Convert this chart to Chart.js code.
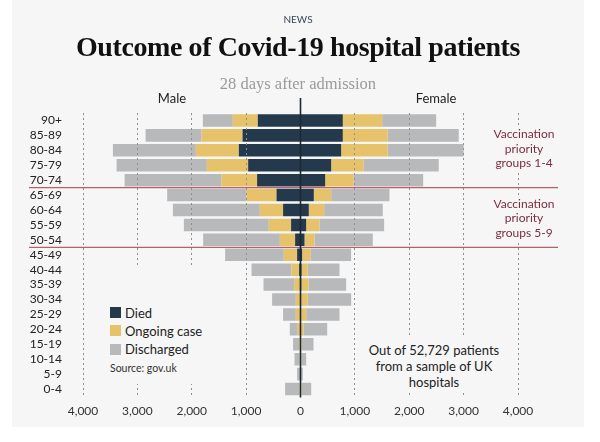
<!DOCTYPE html>
<html>
<head>
<meta charset="utf-8">
<script src="https://cdn.jsdelivr.net/npm/chart.js@4.4.0/dist/chart.umd.min.js"></script>
<style>
  body { margin: 0; background: #fff; font-family: 'Lato', sans-serif; }
  #card { position: absolute; left: 12px; top: 0; width: 572px; height: 427px; background: #f6f6f6; }
  #chart { position: absolute; left: 0; top: 0; }
  .txt { position: absolute; z-index: 2; text-align: center; white-space: nowrap; }
  .news { left: 248px; top: 12px; width: 100px; font-size: 10px; line-height: 14px; color: #3b4756; }
  .title { left: 0; top: 31px; width: 596px; font-family: 'Liberation Serif', serif; font-weight: bold;
           font-size: 28px; line-height: 32px; letter-spacing: -0.4px; color: #111; }
  .sub { left: 0; top: 74px; width: 596px; font-family: 'Liberation Serif', serif; font-size: 16.5px;
         line-height: 20px; color: #9a9a9a; }
  .side { width: 100px; top: 90px; font-size: 13px; line-height: 16px; color: #222; }
  .vacc { left: 490px; width: 68px; font-size: 12px; line-height: 14.5px; color: #7d2b40; background: #f6f6f6; }
  .legend { position: absolute; z-index: 2; left: 100px; top: 266px; width: 130px; height: 118px; background: #f6f6f6; }
  .item { position: absolute; left: 10px; width: 120px; height: 18px; font-size: 13px; line-height: 18px; color: #222; }
  .item i { position: absolute; left: 0; top: 3.5px; width: 11px; height: 11px; }
  .item span { position: absolute; left: 15px; top: 0; white-space: nowrap; }
  .source { position: absolute; left: 10px; top: 96px; font-size: 10.5px; color: #333; white-space: nowrap; }
  .note { left: 362px; top: 335px; width: 144px; height: 58px; padding-top: 7px; box-sizing: border-box;
          font-size: 13px; line-height: 16px; color: #222; background: #f6f6f6; }
</style>
</head>
<body>
<div id="card"></div>
<canvas id="chart" width="600" height="442"></canvas>

<div class="txt news">NEWS</div>
<div class="txt title">Outcome of Covid-19 hospital patients</div>
<div class="txt sub">28 days after admission</div>
<div class="txt side" style="left:122px">Male</div>
<div class="txt side" style="left:386px">Female</div>
<div class="txt vacc" style="top:127px">Vaccination<br>priority<br>groups 1-4</div>
<div class="txt vacc" style="top:196.5px">Vaccination<br>priority<br>groups 5-9</div>

<div class="legend">
  <div class="item" style="top:37.5px"><i style="background:#243a4c"></i><span>Died</span></div>
  <div class="item" style="top:55.8px"><i style="background:#e6c36b"></i><span>Ongoing case</span></div>
  <div class="item" style="top:74.1px"><i style="background:#b7b9bb"></i><span>Discharged</span></div>
  <div class="source">Source: gov.uk</div>
</div>

<div class="txt note">Out of 52,729 patients<br>from a sample of UK<br>hospitals</div>

<script>
// Age bands, top to bottom
const ageGroups = ['90+', '85-89', '80-84', '75-79', '70-74', '65-69', '60-64', '55-59', '50-54',
  '45-49', '40-44', '35-39', '30-34', '25-29', '20-24', '15-19', '10-14', '5-9', '0-4'];

// Patients per band
const maleDied       = [785, 1066, 1134, 963, 798, 441, 320, 173, 99, 62, 25, 12, 8, 5, 3, 2, 1, 1, 2];
const maleOngoing    = [460, 754, 790, 759, 654, 551, 428, 410, 281, 245, 140, 106, 78, 81, 47, 23, 14, 6, 15];
const maleDischarged = [551, 1029, 1526, 1660, 1783, 1460, 1599, 1562, 1410, 1079, 735, 562, 436, 234, 147, 111, 95, 55, 266];

const femaleDied       = [778, 778, 748, 564, 454, 245, 153, 104, 74, 30, 20, 15, 10, 5, 3, 1, 1, 0, 2];
const femaleOngoing    = [724, 827, 855, 594, 521, 319, 282, 245, 184, 153, 114, 132, 124, 100, 52, 19, 14, 5, 15];
const femaleDischarged = [993, 1305, 1397, 1384, 1281, 1072, 1078, 1189, 1072, 748, 583, 693, 798, 612, 436, 219, 90, 37, 180];

// Last band of each vaccination priority block (red separators drawn below them)
const priorityBreaks = ['70-74', '50-54'];

const xTicks = [-4000, -3000, -2000, -1000, 0, 1000, 2000, 3000, 4000];

const COLORS = { died: '#243a4c', ongoing: '#e6c36b', discharged: '#b7b9bb' };
const FONT = "'Lato', 'Open Sans', sans-serif";

const neg = arr => arr.map(v => -v);

function bar(label, values, color) {
  return {
    label: label,
    data: values,
    backgroundColor: color,
    borderWidth: 0,
    barPercentage: 0.84,
    categoryPercentage: 1.0,
    stack: 'all'
  };
}

// Centre axis line and vaccination group separators, on top of everything
const overlayLines = {
  id: 'overlayLines',
  afterDraw(chart) {
    const { ctx, chartArea, scales: { x, y } } = chart;
    ctx.save();
    ctx.strokeStyle = '#b8606a';
    ctx.lineWidth = 1.3;
    priorityBreaks.forEach(name => {
      const i = ageGroups.indexOf(name);
      const py = (y.getPixelForValue(i) + y.getPixelForValue(i + 1)) / 2;
      ctx.beginPath();
      ctx.moveTo(29, py);
      ctx.lineTo(558, py);
      ctx.stroke();
    });
    const px = x.getPixelForValue(0);
    ctx.strokeStyle = '#1c2833';
    ctx.lineWidth = 1.6;
    ctx.beginPath();
    ctx.moveTo(px, 98);
    ctx.lineTo(px, chartArea.bottom + 1);
    ctx.stroke();
    ctx.restore();
  }
};

const config = {
  type: 'bar',
  data: {
    labels: ageGroups,
    datasets: [
      bar('Died', neg(maleDied), COLORS.died),
      bar('Ongoing case', neg(maleOngoing), COLORS.ongoing),
      bar('Discharged', neg(maleDischarged), COLORS.discharged),
      bar('Died', femaleDied, COLORS.died),
      bar('Ongoing case', femaleOngoing, COLORS.ongoing),
      bar('Discharged', femaleDischarged, COLORS.discharged)
    ]
  },
  options: {
    indexAxis: 'y',
    responsive: false,
    animation: false,
    layout: { padding: { top: 113, right: 82, left: 0, bottom: 0 } },
    plugins: { legend: { display: false }, tooltip: { enabled: false } },
    scales: {
      x: {
        stacked: true,
        min: xTicks[0],
        max: xTicks[xTicks.length - 1],
        afterFit: s => { s.height = 45.5; },
        afterBuildTicks: s => { s.ticks = xTicks.map(v => ({ value: v })); },
        grid: {
          drawTicks: false,
          z: 1,
          lineWidth: 1,
          color: c => (c.tick && c.tick.value === 0) ? 'rgba(0,0,0,0)' : '#8f8f8f',
          borderDash: [2, 3]
        },
        border: { display: false, dash: [2, 3] },
        ticks: {
          padding: 7,
          color: '#333',
          font: { family: FONT, size: 12 },
          callback: v => Math.abs(v).toLocaleString('en-GB')
        }
      },
      y: {
        stacked: true,
        afterFit: s => { s.width = 83; },
        grid: { display: false },
        border: { display: false },
        ticks: {
          padding: 13,
          autoSkip: false,
          color: '#222',
          font: { family: FONT, size: 12 }
        }
      }
    }
  },
  plugins: [overlayLines]
};

document.addEventListener('DOMContentLoaded', () => {
  new Chart(document.getElementById('chart'), config);
});
</script>
</body>
</html>
